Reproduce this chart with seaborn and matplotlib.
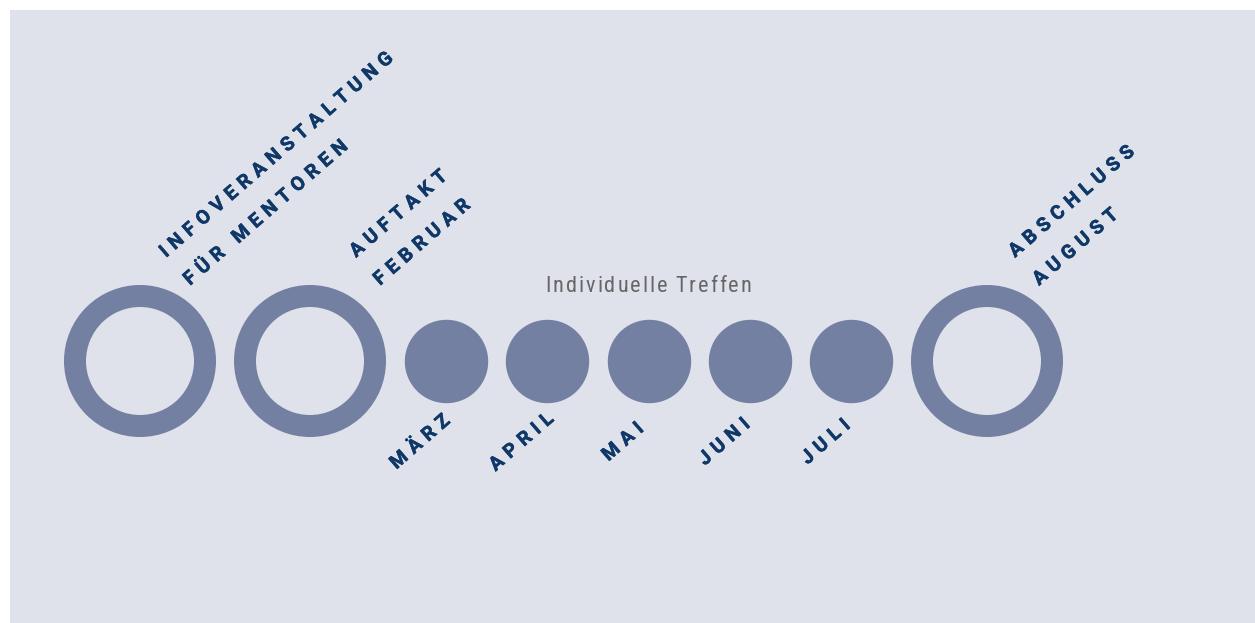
import matplotlib
matplotlib.use("Agg")
import numpy as np
import matplotlib.pyplot as plt
import matplotlib.patheffects as pe
from matplotlib import font_manager
import pandas as pd
import seaborn as sns

# timeline data
events = ["Infoveranstaltung", "Auftakt", "März", "April", "Mai", "Juni", "Juli", "Abschluss"]
kinds = ["ring", "ring", "dot", "dot", "dot", "dot", "dot", "ring"]
top_labels = [
    ("INFOVERANSTALTUNG", "FÜR MENTOREN"),
    ("AUFTAKT", "FEBRUAR"),
    None, None, None, None, None,
    ("ABSCHLUSS", "AUGUST"),
]
bottom_labels = [None, None, "MÄRZ", "APRIL", "MAI", "JUNI", "JULI", None]
middle_label = "Individuelle Treffen"

BG = "#dfe2ea"
CIRCLE = "#7380a2"
NAVY = "#0f3868"
GREY = "#666666"

RING_R = 76
RING_W = 22
DOT_R = 41.7
GAP = 18.0
CY = 361
ANGLE = 41


def first_font(candidates, fallback):
    names = {f.name for f in font_manager.fontManager.ttflist}
    for fam in candidates:
        if fam in names:
            return fam
    return fallback


COND = first_font(["Roboto Condensed", "Liberation Sans Narrow", "DejaVu Sans Condensed"],
                  "Liberation Sans")
LABEL_FONT = first_font(["Roboto"], "Liberation Sans")


def tracked(ax, renderer, x, y, s, family, size, weight, color, track, word_gap,
            angle=0.0, ha="left", stroke=0.0):
    fp = font_manager.FontProperties(family=[family, "DejaVu Sans"], size=size, weight=weight)
    widths = []
    for ch in s:
        if ch == " ":
            widths.append(None)
        else:
            w, _, _ = renderer.get_text_width_height_descent(ch, fp, ismath=False)
            widths.append(w)
    offs = []
    pos = 0.0
    for i, w in enumerate(widths):
        if w is None:
            pos += word_gap
            continue
        offs.append(pos)
        pos += w
        if i < len(widths) - 1:
            pos += track
    total = pos
    if ha == "right":
        shift = -total
    elif ha == "center":
        shift = -total / 2
    else:
        shift = 0.0
    a = np.deg2rad(angle)
    ux, uy = np.cos(a), -np.sin(a)
    chars = [c for c in s if c != " "]
    effects = [pe.withStroke(linewidth=stroke, foreground=color)] if stroke else None
    for ch, o in zip(chars, offs):
        d = o + shift
        ax.text(x + d * ux, y + d * uy, ch, fontproperties=fp, color=color,
                rotation=angle, rotation_mode="anchor", ha="left", va="baseline",
                path_effects=effects)


# pack the circles along the line
xs = []
for i, k in enumerate(kinds):
    r = RING_R if k == "ring" else DOT_R
    if i == 0:
        xs.append(140.0)
    else:
        prev = RING_R if kinds[i - 1] == "ring" else DOT_R
        xs.append(xs[-1] + prev + GAP + r)

df = pd.DataFrame({"event": events, "kind": kinds, "x": xs, "y": CY})

sns.set_theme(style="white")
plt.rcParams["font.family"] = [LABEL_FONT, "DejaVu Sans"]

fig = plt.figure(figsize=(12.55, 6.23), dpi=100)
fig.patch.set_facecolor("white")
ax = fig.add_axes([10 / 1255, 0, 1245 / 1255, 613 / 623])
ax.set_facecolor(BG)

px = 0.72  # points per pixel at 100 dpi
dots = df[df["kind"] == "dot"]
rings = df[df["kind"] == "ring"]
sns.scatterplot(data=dots, x="x", y="y", ax=ax, s=(2 * DOT_R * px) ** 2,
                color=CIRCLE, linewidth=0, legend=False)
ring_d = 2 * (RING_R - RING_W / 2) * px
sns.scatterplot(data=rings, x="x", y="y", ax=ax, s=ring_d ** 2,
                facecolor="none", edgecolor=CIRCLE, linewidth=RING_W * px, legend=False)

ax.set_xlim(10, 1255)
ax.set_ylim(623, 10)
ax.set_xlabel("")
ax.set_ylabel("")
ax.set_xticks([])
ax.set_yticks([])
sns.despine(ax=ax, left=True, bottom=True)

renderer = fig.canvas.get_renderer()

top_dx = {0: 26, 1: 46, 7: 28}
for i, lab in enumerate(top_labels):
    if lab is None:
        continue
    x0 = xs[i] + top_dx[i]
    for j, line in enumerate(lab):
        tracked(ax, renderer, x0 + 24 * j, 258 + 28 * j, line, LABEL_FONT, 14, "bold",
                NAVY, track=6.0, word_gap=10, angle=ANGLE, stroke=0.35)

for i, lab in enumerate(bottom_labels):
    if lab is None:
        continue
    tracked(ax, renderer, xs[i] - 22, 446, lab, LABEL_FONT, 14, "bold", NAVY,
            track=6.0, word_gap=10, angle=ANGLE, ha="center", stroke=0.35)

mid = sum(dots["x"]) / len(dots)
tracked(ax, renderer, mid, 292, middle_label, COND, 16, "normal", GREY,
        track=2.0, word_gap=6, ha="center")

fig.savefig("out.png", dpi=100, facecolor=fig.get_facecolor())
